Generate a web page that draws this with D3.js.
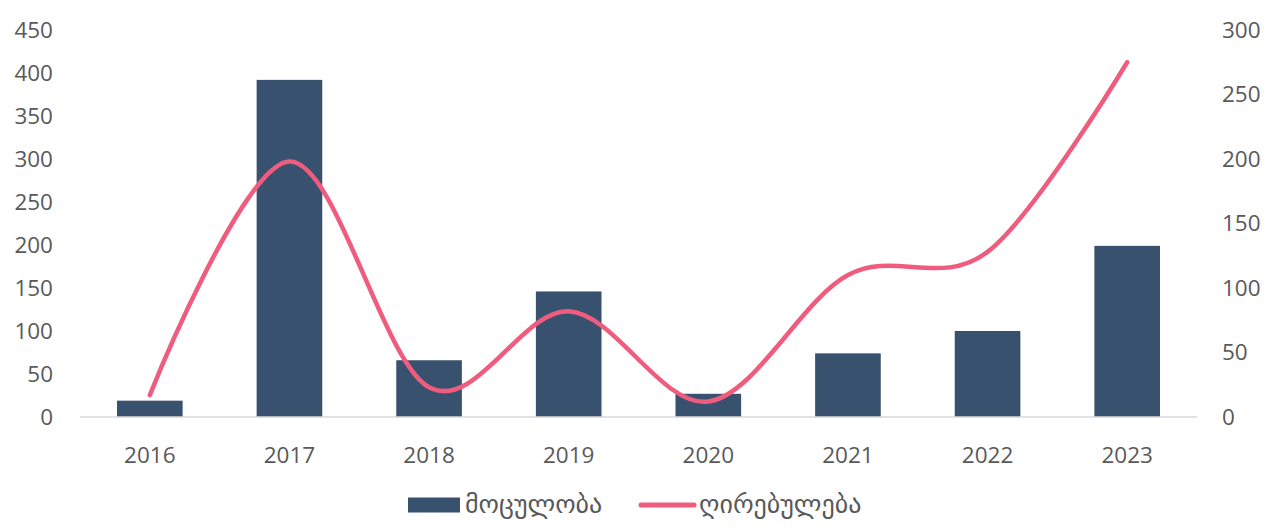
<!DOCTYPE html>
<html>
<head>
<meta charset="utf-8">
<script src="https://cdn.jsdelivr.net/npm/d3@7"></script>
<style>
  body { margin: 0; background: #fff; }
  text { font-family: "Open Sans", "DejaVu Sans", sans-serif; fill: #595959; }
</style>
</head>
<body>
<div id="chart"></div>
<script>
var years = ["2016", "2017", "2018", "2019", "2020", "2021", "2022", "2023"];
var volume = [19, 392, 66, 146, 27, 74, 100, 199];      // bars, left axis
var value = [17, 198, 23, 82, 12, 110, 128, 275];       // line, right axis
var leftTicks = [0, 50, 100, 150, 200, 250, 300, 350, 400, 450];
var rightTicks = [0, 50, 100, 150, 200, 250, 300];
var seriesNames = ["მოცულობა", "ღირებულება"];

var W = 1270, H = 529;
var margin = { top: 30, right: 73, bottom: 112, left: 80 };
var width = W - margin.left - margin.right;
var height = H - margin.top - margin.bottom;

var barColor = "#38516f", lineColor = "#f05c7e";

var svg = d3.select("#chart").append("svg")
  .attr("width", W).attr("height", H);
var g = svg.append("g")
  .attr("transform", "translate(" + margin.left + "," + margin.top + ")");

var x = d3.scaleBand().domain(years).range([0, width]).paddingInner(0.53).paddingOuter(0.265);
var yL = d3.scaleLinear().domain([0, 450]).range([height, 0]);
var yR = d3.scaleLinear().domain([0, 300]).range([height, 0]);

// bars
g.selectAll("rect.bar")
  .data(years)
  .enter().append("rect")
  .attr("class", "bar")
  .attr("x", d => x(d))
  .attr("width", x.bandwidth())
  .attr("y", (d, i) => yL(volume[i]))
  .attr("height", (d, i) => height - yL(volume[i]))
  .attr("fill", barColor);

// baseline
g.append("line")
  .attr("x1", 0).attr("x2", width)
  .attr("y1", height).attr("y2", height)
  .attr("stroke", "#d9d9d9").attr("stroke-width", 1.5);

// left axis
var axL = g.append("g").call(d3.axisLeft(yL).tickValues(leftTicks).tickSize(0).tickPadding(27));
axL.select(".domain").remove();
axL.selectAll("text").style("font-size", "22.5px").attr("fill", "#595959");

// right axis
var axR = g.append("g").attr("transform", "translate(" + width + ",0)")
  .call(d3.axisRight(yR).tickValues(rightTicks).tickSize(0).tickPadding(25));
axR.select(".domain").remove();
axR.selectAll("text").style("font-size", "22.5px").attr("fill", "#595959");

// x axis
var axX = g.append("g").attr("transform", "translate(0," + height + ")")
  .call(d3.axisBottom(x).tickSize(0).tickPadding(30));
axX.select(".domain").remove();
axX.selectAll("text").style("font-size", "22.5px").attr("fill", "#595959");

// smoothed line
var line = d3.line()
  .x((d, i) => x(years[i]) + x.bandwidth() / 2)
  .y(d => yR(d))
  .curve(d3.curveCardinal.tension(0));

g.append("path")
  .datum(value)
  .attr("fill", "none")
  .attr("stroke", lineColor)
  .attr("stroke-width", 4.5)
  .attr("stroke-linecap", "round")
  .attr("d", line);

// legend
var lg = svg.append("g").attr("transform", "translate(408,505)");
lg.append("rect").attr("x", 0).attr("y", -7.5).attr("width", 52).attr("height", 15).attr("fill", barColor);
lg.append("text").attr("x", 57).attr("y", 0).attr("dy", "0.32em")
  .style("font-size", "26px").text(seriesNames[0]);
lg.append("line").attr("x1", 233).attr("x2", 286).attr("y1", 0).attr("y2", 0)
  .attr("stroke", lineColor).attr("stroke-width", 5).attr("stroke-linecap", "round");
lg.append("text").attr("x", 291).attr("y", 0).attr("dy", "0.32em")
  .style("font-size", "26px").text(seriesNames[1]);
</script>
</body>
</html>
